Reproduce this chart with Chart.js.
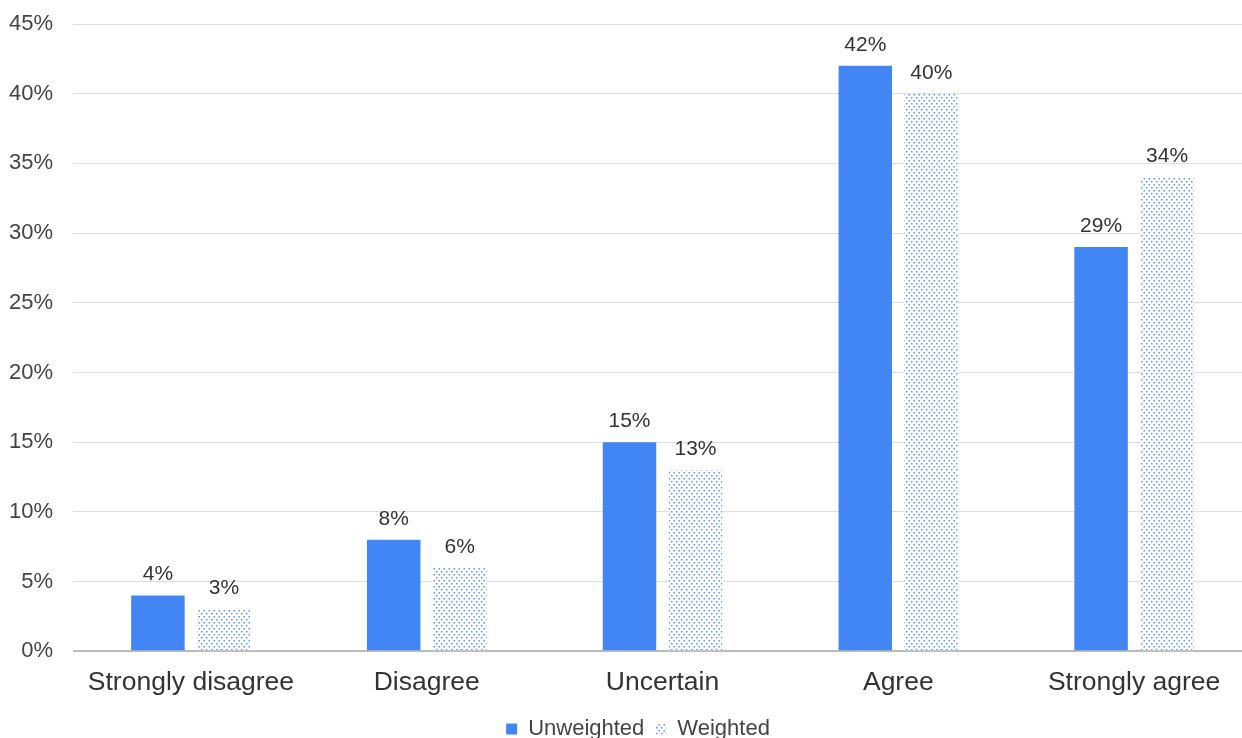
<!DOCTYPE html>
<html>
<head>
<meta charset="utf-8">
<script src="https://cdn.jsdelivr.net/npm/chart.js@4/dist/chart.umd.min.js"></script>
<style>
  html, body { margin: 0; padding: 0; background: #fff; overflow: hidden; }
  #wrap { width: 1252px; height: 752px; }
</style>
</head>
<body>
<div id="wrap"><canvas id="chart" width="1252" height="752"></canvas></div>
<script>
const categories = ['Strongly disagree', 'Disagree', 'Uncertain', 'Agree', 'Strongly agree'];
const unweighted = [4, 8, 15, 42, 29];
const weighted = [3, 6, 13, 40, 34];
const seriesNames = ['Unweighted', 'Weighted'];

const BLUE = '#4285F4';
const FONT = "'Liberation Sans', Arial, Helvetica, sans-serif";

// dotted fill for the weighted series
function dotPattern() {
    const tile = document.createElement('canvas');
    tile.width = 5;
    tile.height = 6;
    const c = tile.getContext('2d');
    c.fillStyle = '#fff';
    c.fillRect(0, 0, 5, 6);
    c.fillStyle = '#5b93f5';
    c.fillRect(1, 1, 1.5, 1.5);
    c.fillRect(3.5, 4, 1.5, 1.5);
    return c.createPattern(tile, 'repeat');
}

const valueLabels = {
    id: 'valueLabels',
    afterDatasetsDraw(chart) {
        const ctx = chart.ctx;
        ctx.save();
        ctx.font = `21px ${FONT}`;
        ctx.fillStyle = '#333';
        ctx.textAlign = 'center';
        ctx.textBaseline = 'alphabetic';
        chart.data.datasets.forEach((ds, i) => {
            chart.getDatasetMeta(i).data.forEach((bar, j) => {
                ctx.fillText(ds.data[j] + '%', bar.x, bar.y - 15);
            });
        });
        ctx.restore();
    }
};

// legend sits a little right of the canvas centre in the original
const legendNudge = {
    id: 'legendNudge',
    afterLayout(chart) {
        chart.legend.left += 12;
        chart.legend.right += 12;
    }
};

const pattern = dotPattern();

new Chart(document.getElementById('chart'), {
    type: 'bar',
    data: {
        labels: categories,
        datasets: [
            {
                label: seriesNames[0],
                data: unweighted,
                backgroundColor: BLUE,
                categoryPercentage: 0.56,
                barPercentage: 0.81
            },
            {
                label: seriesNames[1],
                data: weighted,
                backgroundColor: pattern,
                categoryPercentage: 0.56,
                barPercentage: 0.81
            }
        ]
    },
    options: {
        responsive: false,
        animation: false,
        devicePixelRatio: 1,
        layout: { padding: { top: 24, right: 0, left: 0, bottom: 2 } },
        plugins: {
            legend: {
                position: 'bottom',
                labels: {
                    boxWidth: 11,
                    boxHeight: 11,
                    padding: 11,
                    color: '#444',
                    font: { family: FONT, size: 22 }
                }
            },
            tooltip: { enabled: false }
        },
        scales: {
            x: {
                grid: { display: false },
                border: { display: false },
                ticks: {
                    color: '#333',
                    padding: 8,
                    font: { family: FONT, size: 26.5 }
                }
            },
            y: {
                min: 0,
                max: 45,
                ticks: {
                    stepSize: 5,
                    padding: 9,
                    color: '#444',
                    font: { family: FONT, size: 22 },
                    callback: (v) => v + '%'
                },
                grid: {
                    color: (ctx) => ctx.tick && ctx.tick.value === 0 ? '#bbb' : '#ddd',
                    lineWidth: (ctx) => ctx.tick && ctx.tick.value === 0 ? 2 : 1,
                    drawTicks: true,
                    tickLength: 11,
                    tickColor: 'rgba(0,0,0,0)'
                },
                border: { display: false }
            }
        }
    },
    plugins: [valueLabels, legendNudge]
});
</script>
</body>
</html>
